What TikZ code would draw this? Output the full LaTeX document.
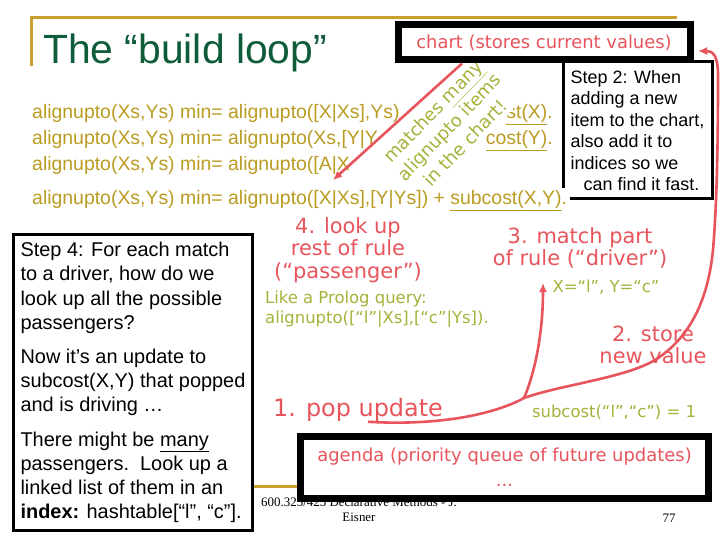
\documentclass[tikz,border=0pt]{standalone}
\usepackage{fontspec}
\setmainfont{Liberation Sans}
\newfontfamily\handfont{DejaVu Sans}
\newfontfamily\footfont{Liberation Serif}
\usetikzlibrary{arrows.meta,positioning}

\definecolor{slidered}{RGB}{232,84,92}
\definecolor{olivenote}{RGB}{166,178,58}
\definecolor{rulegold}{RGB}{186,156,34}
\definecolor{titlegreen}{RGB}{14,92,58}
\definecolor{barline}{RGB}{200,160,48}

\tikzset{
  eqline/.style={anchor=base west,inner sep=0pt,text=rulegold,font=\fontsize{19.5}{22}\selectfont},
  redhand/.style={text=slidered,align=center,inner sep=0pt,font=\handfont\fontsize{21}{22.5}\selectfont},
  olivehand/.style={text=olivenote,inner sep=0pt,font=\handfont\fontsize{16.5}{20}\selectfont},
  notebox/.style={draw=black,line width=3bp,fill=white,align=left,inner sep=0pt},
  bigbox/.style={draw=black,line width=7bp,fill=white,align=center,inner sep=0pt,
    text=slidered,font=\handfont\fontsize{18}{25}\selectfont},
  flow/.style={draw=slidered,line width=2.6bp,-{Latex[length=9bp,width=8bp]}},
}

\begin{document}
\begin{tikzpicture}[x=1bp,y=-1bp]
\fill[white] (0,0) rectangle (720,540);
\useasboundingbox (0,0) rectangle (720,540);

% slide frame and title
\draw[barline,line width=3bp] (31,66) -- (31,18) -- (677,18);
\draw[barline,line width=3bp] (12,486) -- (705,486);
\node[anchor=base west,inner sep=0pt,text=titlegreen,font=\fontsize{41}{44}\selectfont]
  (title) at (43,64) {The “build loop”};

% footer
\node[font=\footfont\fontsize{13}{15}\selectfont,align=center,inner sep=0pt]
  (footer) at (359,510) {600.325/425 Declarative Methods - J.\\Eisner};
\node[font=\footfont\fontsize{13}{15}\selectfont,inner sep=0pt] (pageno) at (669,518) {77};

% the rules (the middle of the first two is hidden by the note)
\node[eqline] (ruleA) at (32,119) {alignupto(Xs,Ys) min= alignupto([X|Xs],Ys)};
\node[eqline,anchor=base east] (ruleAc) at (553,119) {\underline{st(X)}.};
\node[eqline] (ruleB) at (32,145) {alignupto(Xs,Ys) min= alignupto(Xs,[Y|Y};
\node[eqline,anchor=base east] (ruleBc) at (553,145) {\underline{cost(Y)}.};
\node[eqline] (ruleC) at (32,171) {alignupto(Xs,Ys) min= alignupto([A|X};

% step 2 note
\node[notebox,minimum width=149bp,minimum height=137bp,
  font=\fontsize{18}{21.6}\selectfont] (stepB) at (637.5,130.5)
  {Step 2: When\\adding a new\\item to the chart,\\also add it to\\indices so we\\\hspace*{13bp}can find it fast.};

% note across the rules
\node[olivehand,fill=white,rotate=46,align=center,inner sep=4bp,
  font=\handfont\fontsize{18}{22.5}\selectfont] (manyitems) at (449,127)
  {matches \underline{many}\\alignupto items\\in the chart!};

\node[eqline,fill=white,inner sep=3bp] (ruleD) at (29,205)
  {alignupto(Xs,Ys) min= alignupto([X|Xs],[Y|Ys]) + \underline{subcost(X,Y)}.};

\node[bigbox,minimum width=292bp,minimum height=35bp] (chart) at (544,42.5)
  {chart (stores current values)};
\coordinate (slashtip) at (333,180);
\draw[flow] ([xshift=-82bp]chart.south) -- (slashtip);

% steps of the loop
\node[redhand] (lookup) at (348,250) {4. look up\\rest of rule\\(“passenger”)};
\node[olivehand,anchor=west,align=left] (prolog) at (265,309)
  {Like a Prolog query:\\alignupto([“l”|Xs],[“c”|Ys]).};
\node[redhand] (matchpart) at (580,248) {3. match part\\of rule (“driver”)};
\node[olivehand] (binding) at (606,287) {X=“l”, Y=“c”};
\node[redhand] (store) at (653,345) {2. store\\new value};
\node[redhand,font=\handfont\fontsize{24}{26}\selectfont] (pop) at (358,410) {1. pop update};
\node[olivehand] (newval) at (614,412) {subcost(“l”,“c”) = 1};

\coordinate (fork) at (524,398);
\coordinate (chartin) at (698,51);
\coordinate (matchin) at (543,283);
\draw[flow] ([xshift=10bp]pop.south) .. controls (440,426) and (495,414) .. (fork)
  .. controls (560,385) and (625,378) .. (655,360)
  .. controls (690,338) and (708,300) .. (713,250)
  .. controls (718,190) and (718,110) .. (718,75)
  .. controls (718,54) and (712,51) .. (chartin);
\draw[flow] (fork) .. controls (536,370) and (543,330) .. (matchin);

% agenda
\node[bigbox,minimum width=408bp,minimum height=62bp] (agenda) at (504.5,467.5)
  {agenda (priority queue of future updates)\\...};

% step 4 note
\node[notebox,minimum width=239bp,minimum height=296bp,
  font=\fontsize{20}{24.3}\selectfont] (stepD) at (133,382.5)
  {Step 4: For each match\\to a driver, how do we\\look up all the possible\\passengers?\\[10bp]
   Now it’s an update to\\subcost(X,Y) that popped\\and is driving …\\[10bp]
   There might be \underline{many}\\passengers.\ \ Look up a\\linked list of them in an\\
   \textbf{index:} hashtable[“l”, “c”].};
\end{tikzpicture}
\end{document}
